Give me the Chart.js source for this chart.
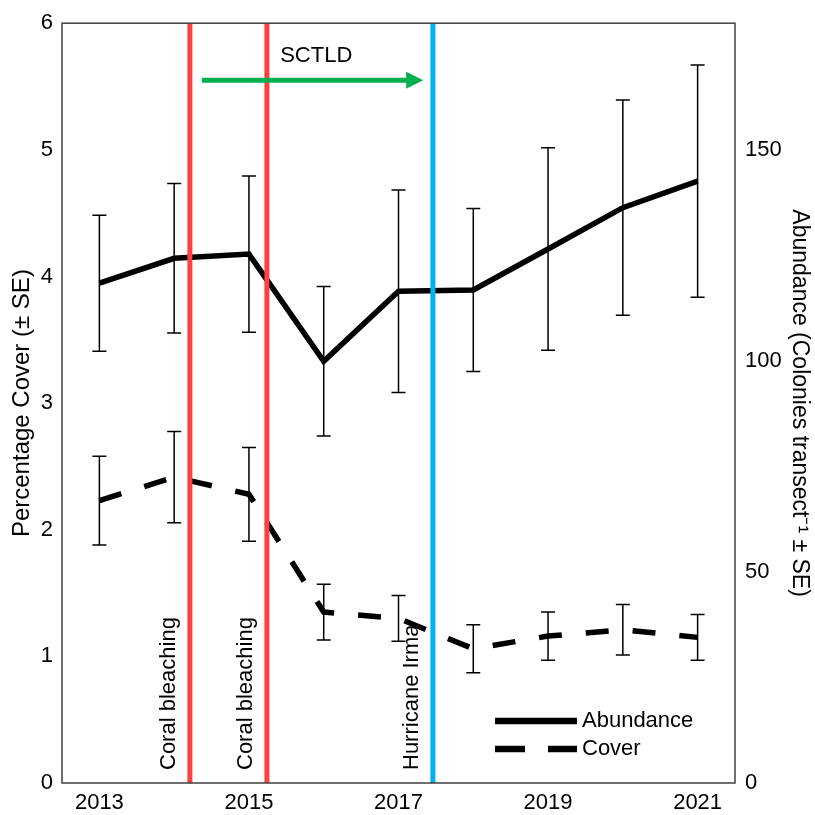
<!DOCTYPE html>
<html>
<head>
<meta charset="utf-8">
<script src="https://cdn.jsdelivr.net/npm/chart.js@4"></script>
<style>
  html, body { margin: 0; padding: 0; background: #fff; }
</style>
</head>
<body>
<canvas id="main-chart" width="815" height="815"></canvas>
<script>
// ---------------------------------------------------------------------------
// Coral abundance and cover, 2013-2021, with disturbance events
// ---------------------------------------------------------------------------

const years = [2013, 2014, 2015, 2016, 2017, 2018, 2019, 2020, 2021];
const abundance = [118.4, 124.3, 125.3, 99.9, 116.5, 116.8, 126.5, 136.3, 142.6];
const abundanceSE = [16.1, 17.7, 18.5, 17.7, 24.0, 19.3, 24.0, 25.5, 27.5];
const cover = [2.23, 2.415, 2.28, 1.35, 1.30, 1.06, 1.16, 1.21, 1.15];
const coverSE = [0.35, 0.36, 0.37, 0.22, 0.18, 0.19, 0.19, 0.20, 0.18];

const xTicks = [2013, 2015, 2017, 2019, 2021];
const coverTicks = [0, 1, 2, 3, 4, 5, 6];
const abundanceTicks = [0, 50, 100, 150];

// disturbance events (x in years)
const eventYears = [2014.21, 2015.24, 2017.46];
const eventLabels = ["Coral bleaching", "Coral bleaching", "Hurricane Irma"];
const eventColours = ["#FF4040", "#FF4040", "#00B0F0"];

// SCTLD arrow: start year, end year, level on the cover axis
const sctldSpan = [2014.37, 2017.33];
const sctldLevel = 5.55;
const sctldTextPos = [2015.9, 5.74];

const FONT = '"Liberation Sans", Arial, sans-serif';

// ---- Error bars ----
const errorBarPlugin = {
  id: "errorBars",
  afterDatasetsDraw(chart) {
    const ctx = chart.ctx;
    const xs = chart.scales.x;
    const sets = [
      [chart.scales.y1, abundance, abundanceSE],
      [chart.scales.y, cover, coverSE],
    ];
    ctx.save();
    ctx.strokeStyle = "#000";
    ctx.lineWidth = 1.5;
    for (const [ys, vals, se] of sets) {
      years.forEach((yr, i) => {
        const px = xs.getPixelForValue(yr);
        const top = ys.getPixelForValue(vals[i] + se[i]);
        const bot = ys.getPixelForValue(vals[i] - se[i]);
        ctx.beginPath();
        ctx.moveTo(px, top);
        ctx.lineTo(px, bot);
        ctx.moveTo(px - 7, top);
        ctx.lineTo(px + 7, top);
        ctx.moveTo(px - 7, bot);
        ctx.lineTo(px + 7, bot);
        ctx.stroke();
      });
    }
    ctx.restore();
  },
};

// ---- Event lines, labels, arrow, frame, legend ----
const annotationPlugin = {
  id: "annotations",
  afterDatasetsDraw(chart) {
    const ctx = chart.ctx;
    const area = chart.chartArea;
    const xs = chart.scales.x;
    const ys = chart.scales.y;
    ctx.save();

    // vertical event lines + rotated labels
    eventYears.forEach((yr, i) => {
      const px = xs.getPixelForValue(yr);
      ctx.strokeStyle = eventColours[i];
      ctx.lineWidth = 5;
      ctx.beginPath();
      ctx.moveTo(px, area.top);
      ctx.lineTo(px, area.bottom);
      ctx.stroke();

      ctx.save();
      ctx.translate(px - 15, area.bottom - 13);
      ctx.rotate(-Math.PI / 2);
      ctx.fillStyle = "#000";
      ctx.font = "22px " + FONT;
      ctx.textAlign = "left";
      ctx.textBaseline = "alphabetic";
      ctx.fillText(eventLabels[i], 0, 0);
      ctx.restore();
    });

    // SCTLD arrow
    const ax0 = xs.getPixelForValue(sctldSpan[0]);
    const ax1 = xs.getPixelForValue(sctldSpan[1]);
    const ay = ys.getPixelForValue(sctldLevel);
    ctx.strokeStyle = "#00B050";
    ctx.fillStyle = "#00B050";
    ctx.lineWidth = 5;
    ctx.beginPath();
    ctx.moveTo(ax0, ay);
    ctx.lineTo(ax1 - 14, ay);
    ctx.stroke();
    ctx.beginPath();
    ctx.moveTo(ax1, ay);
    ctx.lineTo(ax1 - 17, ay - 8.5);
    ctx.lineTo(ax1 - 17, ay + 8.5);
    ctx.closePath();
    ctx.fill();

    ctx.fillStyle = "#000";
    ctx.font = "22px " + FONT;
    ctx.textAlign = "center";
    ctx.textBaseline = "middle";
    ctx.fillText("SCTLD", xs.getPixelForValue(sctldTextPos[0]), ys.getPixelForValue(sctldTextPos[1]));

    // frame
    ctx.strokeStyle = "#404040";
    ctx.lineWidth = 1.5;
    ctx.strokeRect(area.left, area.top, area.right - area.left, area.bottom - area.top);

    // legend
    const lx0 = 495, lx1 = 577;
    const rows = chart.data.datasets.map((ds, i) => ({ ds, y: 721 + i * 28 }));
    for (const { ds, y } of rows) {
      ctx.strokeStyle = "#000";
      ctx.lineWidth = 6.5;
      ctx.setLineDash(ds.borderDash ? [30, 23] : []);
      ctx.beginPath();
      ctx.moveTo(lx0, y);
      ctx.lineTo(lx1, y);
      ctx.stroke();
      ctx.setLineDash([]);
      ctx.fillStyle = "#000";
      ctx.font = "22px " + FONT;
      ctx.textAlign = "left";
      ctx.textBaseline = "middle";
      ctx.fillText(ds.label, 582, y);
    }

    ctx.restore();
  },
};

// ---- Chart ----
const tickFont = { family: FONT, size: 22 };

new Chart(document.getElementById("main-chart").getContext("2d"), {
  type: "line",
  data: {
    datasets: [
      {
        label: "Abundance",
        data: years.map((yr, i) => ({ x: yr, y: abundance[i] })),
        yAxisID: "y1",
        borderColor: "#000",
        borderWidth: 5.5,
        pointRadius: 0,
        tension: 0,
      },
      {
        label: "Cover",
        data: years.map((yr, i) => ({ x: yr, y: cover[i] })),
        yAxisID: "y",
        borderColor: "#000",
        borderWidth: 5.5,
        borderDash: [23, 24],
        pointRadius: 0,
        tension: 0,
      },
    ],
  },
  options: {
    responsive: false,
    animation: false,
    layout: { padding: { top: 17, left: 0, right: 0, bottom: 0 } },
    plugins: {
      legend: { display: false },
      tooltip: { enabled: false },
    },
    scales: {
      x: {
        type: "linear",
        min: 2012.5,
        max: 2021.5,
        grid: { display: false, drawTicks: false },
        border: { display: false },
        afterBuildTicks: (s) => { s.ticks = xTicks.map((v) => ({ value: v })); },
        afterFit: (s) => { s.height = 32; },
        ticks: {
          color: "#000",
          font: tickFont,
          padding: 7,
          maxRotation: 0,
          callback: (v) => String(v),
        },
      },
      y: {
        position: "left",
        min: 0,
        max: 6,
        grid: { display: false, drawTicks: false },
        border: { display: false },
        afterBuildTicks: (s) => { s.ticks = coverTicks.map((v) => ({ value: v })); },
        afterFit: (s) => { s.width = 62; },
        ticks: { color: "#000", font: tickFont, padding: 9 },
        title: {
          display: true,
          text: "Percentage Cover (± SE)",
          color: "#000",
          font: { family: FONT, size: 24 },
          padding: { top: 8, bottom: 0 },
        },
      },
      y1: {
        position: "right",
        min: 0,
        max: 180,
        grid: { display: false, drawTicks: false },
        border: { display: false },
        afterBuildTicks: (s) => { s.ticks = abundanceTicks.map((v) => ({ value: v })); },
        afterFit: (s) => { s.width = 80; },
        ticks: { color: "#000", font: tickFont, padding: 10 },
        title: {
          display: true,
          text: "Abundance (Colonies transect\u207B\u00B9 ± SE)",
          color: "#000",
          font: { family: FONT, size: 23 },
          padding: { top: 2, bottom: 0 },
        },
      },
    },
  },
  plugins: [errorBarPlugin, annotationPlugin],
});
</script>
</body>
</html>
